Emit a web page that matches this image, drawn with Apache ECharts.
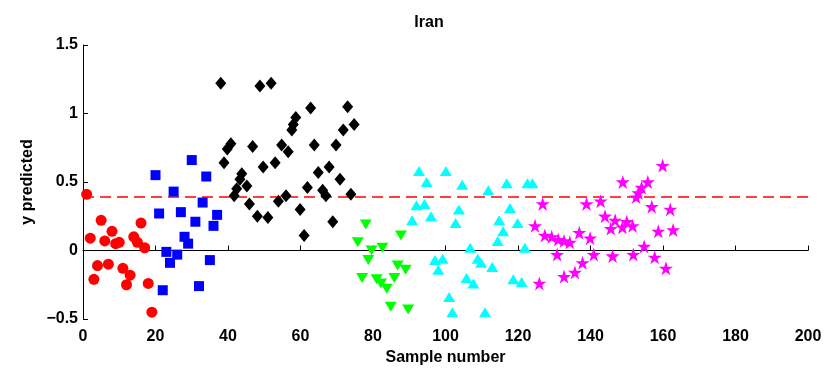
<!DOCTYPE html>
<html>
<head>
<meta charset="utf-8">
<script src="https://cdn.jsdelivr.net/npm/echarts@6/dist/echarts.min.js"></script>
<style>
  html, body { margin: 0; padding: 0; background: #fff; }
  #chart { width: 827px; height: 369px; }
</style>
</head>
<body>
<div id="chart"></div>
<script>
// Predicted y per sample, grouped by class
const redX = [1, 2, 3, 4, 5, 6, 7, 8, 9, 10, 11, 12, 13, 14, 15, 16, 17, 18, 19];
const redY = [0.41, 0.09, -0.21, -0.11, 0.22, 0.07, -0.10, 0.14, 0.05, 0.06, -0.13, -0.25, -0.18, 0.10, 0.06, 0.20, 0.02, -0.24, -0.45];

const blueX = [20, 21, 22, 23, 24, 25, 26, 27, 28, 29, 30, 31, 32, 33, 34, 35, 36, 37];
const blueY = [0.55, 0.27, -0.29, -0.01, -0.09, 0.43, -0.03, 0.28, 0.10, 0.05, 0.66, 0.21, -0.26, 0.35, 0.54, -0.07, 0.18, 0.26];

const blackX = [38.0, 38.9, 39.8, 40.8, 41.7, 42.4, 43.3, 43.8, 45.2, 45.9, 46.8, 48.1, 48.8, 49.7, 51.0, 51.9, 53.0, 53.9, 54.8, 56.0,
                56.6, 57.6, 58.0, 58.7, 59.9, 61.0, 61.9, 62.8, 63.8, 64.9, 66.1, 67.0, 67.9, 68.9, 69.8, 70.9, 71.8, 73.0, 73.9, 74.8];
const blackY = [1.22, 0.64, 0.74, 0.78, 0.40, 0.45, 0.52, 0.56, 0.47, 0.34, 0.76, 0.25, 1.20, 0.61, 0.24, 1.22, 0.64, 0.36, 0.77, 0.40,
                0.72, 0.88, 0.92, 0.97, 0.30, 0.11, 0.46, 1.04, 0.77, 0.57, 0.44, 0.40, 0.61, 0.21, 0.77, 0.52, 0.88, 1.05, 0.41, 0.92];

const greenX = [75.8, 77.0, 78.0, 78.7, 79.6, 81.0, 82.2, 82.6, 83.8, 84.9, 85.9, 86.8, 87.7, 89.0, 89.7];
const greenY = [0.06, -0.20, 0.19, -0.07, 0.00, -0.21, -0.24, 0.02, -0.28, -0.41, -0.20, -0.11, 0.11, -0.14, -0.43];

const cyanX = [90.8, 92.0, 92.7, 94.2, 94.8, 96.0, 97.1, 98.0, 99.2, 100.1, 101.0, 101.9, 102.8, 103.7, 104.6, 105.8, 106.8,
               107.7, 108.9, 109.8, 110.9, 111.8, 112.9, 114.4, 114.8, 115.9, 116.9, 117.8, 118.7, 119.9, 121.0, 121.9, 122.6, 124.0];
const cyanY = [0.22, 0.33, 0.58, 0.34, 0.50, 0.25, -0.07, -0.14, -0.06, 0.58, -0.34, -0.45, 0.20, 0.30, 0.48, -0.20, 0.02,
               -0.24, -0.06, -0.09, -0.45, 0.44, -0.12, 0.07, 0.22, 0.14, 0.49, 0.31, -0.21, 0.20, -0.23, 0.02, 0.49, 0.49];

const magentaX = [124.7, 125.9, 126.8, 127.4, 129.3, 130.8, 131.1, 132.7, 132.7, 134.3, 135.7, 136.9, 137.8, 138.9, 139.9, 140.9,
                  142.8, 144.0, 145.6, 146.1, 146.8, 148.8, 148.9, 150.0, 151.6, 151.8, 152.6, 153.2, 154.1, 154.8, 155.8, 156.9,
                  157.7, 158.7, 159.9, 160.8, 162.0, 162.8];
const magentaY = [0.18, -0.24, 0.34, 0.11, 0.10, -0.03, 0.08, 0.07, -0.19, 0.06, -0.16, 0.13, -0.09, 0.34, 0.09, -0.03,
                  0.36, 0.25, 0.16, -0.04, 0.22, 0.17, 0.50, 0.21, 0.18, -0.03, 0.39, 0.42, 0.46, 0.03, 0.50, 0.32,
                  -0.05, 0.14, 0.62, -0.13, 0.30, 0.15];

const threshold = 0.39;

const xTicks = { min: 0, max: 200, interval: 20 };
const yTicks = { min: -0.5, max: 1.5, interval: 0.5 };

const zip = (xs, ys) => xs.map((x, i) => [x, ys[i]]);

const FONT = '"Liberation Sans Narrow", "Arial Narrow", "Liberation Sans", Arial, sans-serif';
const starPath = 'path://M50,0 L61.8,35.4 L99,35.4 L69,57.3 L80.4,92.7 L50,70.8 L19.6,92.7 L31,57.3 L1,35.4 L38.2,35.4 Z';

function scatter(name, data, color, symbol, size, rotate) {
  return {
    name, type: 'scatter', data,
    symbol, symbolSize: size, symbolRotate: rotate || 0,
    itemStyle: { color, opacity: 1 },
    z: 3
  };
}

const chart = echarts.init(document.getElementById('chart'), null, { renderer: 'canvas' });

chart.setOption({
  animation: false,
  backgroundColor: '#ffffff',
  title: {
    text: 'Iran',
    left: 424, top: 10,
    textAlign: 'center',
    textStyle: { fontFamily: FONT, fontWeight: 'bold', fontSize: 16, color: '#000' }
  },
  grid: { left: 83, right: 19, top: 45, bottom: 50, containLabel: false, outerBoundsMode: 'none' },
  xAxis: {
    type: 'value',
    min: xTicks.min, max: xTicks.max, interval: xTicks.interval,
    name: 'Sample number',
    nameLocation: 'middle',
    nameGap: 29,
    nameTextStyle: { fontFamily: FONT, fontWeight: 'bold', fontSize: 16, color: '#000' },
    axisLine: { show: true, lineStyle: { color: '#000', width: 1 } },
    axisTick: { show: true, inside: true, length: 5, lineStyle: { color: '#000' } },
    axisLabel: { fontFamily: FONT, fontWeight: 'bold', fontSize: 16, color: '#000', margin: 10 },
    splitLine: { show: false }
  },
  yAxis: {
    type: 'value',
    min: yTicks.min, max: yTicks.max, interval: yTicks.interval,
    name: 'y predicted',
    nameLocation: 'middle',
    nameGap: 47,
    nameRotate: 90,
    nameTextStyle: { fontFamily: FONT, fontWeight: 'bold', fontSize: 16, color: '#000' },
    axisLine: { show: true, lineStyle: { color: '#000', width: 1 } },
    axisTick: { show: true, inside: true, length: 5, lineStyle: { color: '#000' } },
    axisLabel: {
      fontFamily: FONT, fontWeight: 'bold', fontSize: 16, color: '#000', margin: 5,
      formatter: v => String(v).replace('-', '\u2212')
    },
    splitLine: { show: false }
  },
  series: [
    {
      name: 'threshold', type: 'line',
      data: [[xTicks.min, threshold], [xTicks.max, threshold]],
      symbol: 'none',
      lineStyle: { color: '#ff0000', width: 1.5, type: [11, 6] },
      z: 2, silent: true
    },
    scatter('class 1', zip(redX, redY), '#ff0000', 'circle', 11),
    scatter('class 2', zip(blueX, blueY), '#0000ff', 'rect', 10),
    scatter('class 3', zip(blackX, blackY), '#000000', 'diamond', [11, 13]),
    scatter('class 4', zip(greenX, greenY), '#00ff00', 'triangle', [12, 10], 180),
    scatter('class 5', zip(cyanX, cyanY), '#00ffff', 'triangle', [12, 10]),
    scatter('class 6', zip(magentaX, magentaY), '#ff00ff', starPath, 14)
  ]
});
</script>
</body>
</html>
